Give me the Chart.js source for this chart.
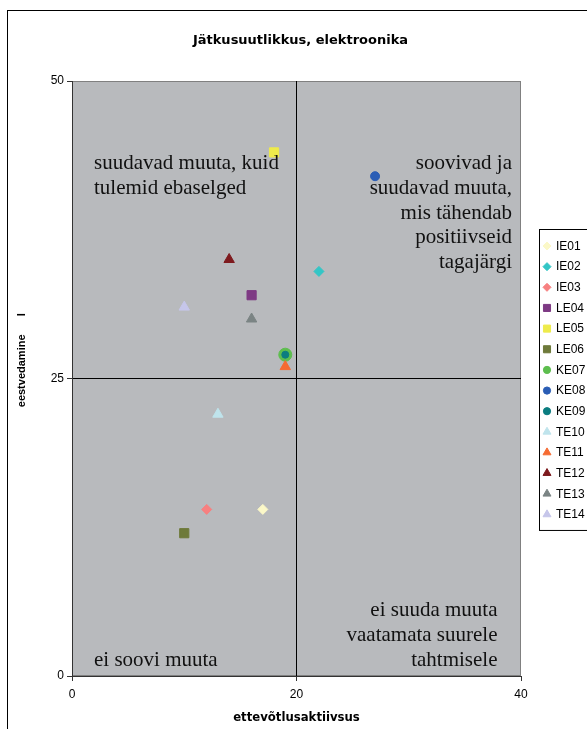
<!DOCTYPE html>
<html><head><meta charset="utf-8">
<script src="https://cdn.jsdelivr.net/npm/chart.js@4/dist/chart.umd.min.js"></script>
<style>html,body{margin:0;padding:0;background:#fff;overflow:hidden}canvas{display:block}</style>
</head><body>
<canvas id="c" width="587" height="729"></canvas>
<script>
// ---- data ----
const seriesNames = ['IE01','IE02','IE03','LE04','LE05','LE06','KE07','KE08','KE09','TE10','TE11','TE12','TE13','TE14'];
const xValues = [17, 22, 12, 16, 18, 10, 19, 27, 19, 13, 19, 14, 16, 10];
const yValues = [14, 34, 14, 32, 44, 12, 27, 42, 27, 22, 26, 35, 30, 31];
const seriesColors = ['#FBF8C8','#33C6C6','#F78080','#7E3A84','#EEEB4B','#6E7A3A','#5DBE4E','#2A5DB5','#0B7D80','#BFE4EC','#F66B32','#7E1A1E','#7B8484','#C6C6EA'];
const markerStyles = ['rectRot','rectRot','rectRot','rect','rect','rect','circle','circle','circle','triangle','triangle','triangle','triangle','triangle'];
const markerSizes = [5, 5, 5, 6.5, 6.5, 6.5, 6.5, 4.5, 3.5, 6, 6, 6, 6, 6];
const legendSizes = [4, 4, 4, 5, 5, 5, 3.6, 3.6, 3.6, 4.6, 4.6, 4.6, 4.6, 4.6];
const xTicks = [0, 20, 40];
const yTicks = [0, 25, 50];
const xDivider = 20;
const yDivider = 25;
const chartTitle = 'Jätkusuutlikkus, elektroonika';
const xTitle = 'ettevõtlusaktiivsus';
const yTitle = '            eestvedamine      I';
const quadrantTL = ['suudavad muuta, kuid', 'tulemid ebaselged'];
const quadrantTR = ['soovivad ja', 'suudavad muuta,', 'mis tähendab', 'positiivseid', 'tagajärgi'];
const quadrantBL = ['ei soovi muuta'];
const quadrantBR = ['ei suuda muuta', 'vaatamata suurele', 'tahtmisele'];

const SANS = "'Liberation Sans', Arial, sans-serif";
const BOLD = "'DejaVu Sans', 'Liberation Sans', sans-serif";
const SERIF = "'Liberation Serif', 'Times New Roman', serif";

const datasets = seriesNames.map((name, i) => ({
  label: name,
  data: [{x: xValues[i], y: yValues[i]}],
  pointStyle: markerStyles[i],
  pointRadius: markerSizes[i],
  pointHoverRadius: markerSizes[i],
  backgroundColor: seriesColors[i],
  borderColor: seriesColors[i],
  borderWidth: 1,
  order: name === 'KE07' ? 1 : 0
}));

const decorPlugin = {
  id: 'decor',
  beforeDraw(chart) {
    const {ctx, chartArea: a} = chart;
    ctx.save();
    ctx.fillStyle = '#fff';
    ctx.fillRect(0, 0, chart.width, chart.height);
    ctx.fillStyle = '#B8BABD';
    ctx.fillRect(a.left, a.top, a.right - a.left, a.bottom - a.top);
    ctx.strokeStyle = '#808080';
    ctx.lineWidth = 1;
    ctx.strokeRect(a.left + 0.5, a.top + 0.5, a.right - a.left - 1, a.bottom - a.top - 1);
    ctx.strokeStyle = '#000';
    ctx.strokeRect(7.5, 10.5, 700, 800);
    ctx.restore();
  },
  afterDatasetsDraw(chart) {
    const {ctx, chartArea: a} = chart;
    ctx.save();
    ctx.font = '21px ' + SERIF;
    ctx.fillStyle = '#111';
    ctx.textBaseline = 'alphabetic';
    const lh = 24.8;
    ctx.textAlign = 'left';
    quadrantTL.forEach((t, i) => ctx.fillText(t, a.left + 22, a.top + 88 + i * lh));
    quadrantBL.forEach((t, i) => ctx.fillText(t, a.left + 22, a.bottom - 10 - (quadrantBL.length - 1 - i) * lh));
    ctx.textAlign = 'right';
    quadrantTR.forEach((t, i) => ctx.fillText(t, a.right - 9, a.top + 88 + i * lh));
    quadrantBR.forEach((t, i) => ctx.fillText(t, a.right - 23.5, a.bottom - 10 - (quadrantBR.length - 1 - i) * lh));
    ctx.restore();
  },
  afterDraw(chart) {
    const {ctx} = chart;
    ctx.save();
    const top = 229.5, step = 20.65, first = 246;
    const h = first - top + (seriesNames.length - 1) * step + 16;
    ctx.strokeStyle = '#000';
    ctx.lineWidth = 1;
    ctx.strokeRect(539.5, top, 80, h);
    ctx.font = '12px ' + SANS;
    ctx.textBaseline = 'middle';
    ctx.textAlign = 'left';
    chart.data.datasets.forEach((ds, i) => {
      const y = first + i * step;
      ctx.fillStyle = ds.backgroundColor;
      ctx.strokeStyle = ds.borderColor;
      Chart.helpers.drawPoint(ctx, {pointStyle: ds.pointStyle, radius: legendSizes[i], rotation: 0, borderWidth: 1}, 547, y);
      ctx.fillStyle = '#000';
      ctx.fillText(ds.label, 556, y + 0.5);
    });
    ctx.restore();
  }
};

new Chart(document.getElementById('c'), {
  type: 'scatter',
  data: {datasets},
  options: {
    responsive: false,
    animation: false,
    devicePixelRatio: 1,
    layout: {padding: {left: 14, right: 0, top: 0, bottom: 0}},
    plugins: {
      legend: {display: false},
      tooltip: {enabled: false},
      title: {
        display: true, text: chartTitle, color: '#000',
        font: {family: BOLD, size: 13, weight: 'bold'},
        padding: {top: 33, bottom: 32.4}
      }
    },
    scales: {
      x: {
        type: 'linear', min: 0, max: 40,
        afterBuildTicks: s => { s.ticks = xTicks.map(v => ({value: v})); },
        afterFit: s => { s.height = 53; },
        ticks: {color: '#000', font: {family: SANS, size: 12}, padding: 6},
        grid: {
          drawOnChartArea: true, drawTicks: true, tickLength: 5, tickColor: '#333',
          color: c => (c.tick && c.tick.value === xDivider) ? '#000' : 'rgba(0,0,0,0)'
        },
        border: {color: '#333', width: 1},
        title: {display: true, text: xTitle, color: '#000', font: {family: BOLD, size: 11.7, weight: 'bold'}, padding: {top: 4, bottom: 4}}
      },
      y: {
        type: 'linear', min: 0, max: 50,
        afterBuildTicks: s => { s.ticks = yTicks.map(v => ({value: v})); },
        afterFit: s => { s.width = 58; },
        ticks: {color: '#000', font: {family: SANS, size: 12}, padding: 3},
        grid: {
          drawOnChartArea: true, drawTicks: true, tickLength: 5, tickColor: '#333',
          color: c => (c.tick && c.tick.value === yDivider) ? '#000' : 'rgba(0,0,0,0)'
        },
        border: {color: '#333', width: 1},
        title: {display: true, text: yTitle, color: '#000', font: {family: SANS, size: 11, weight: 'bold'}, padding: {top: 1.5, bottom: 4}}
      },
      yRight: {
        type: 'linear', position: 'right', min: 0, max: 50,
        afterFit: s => { s.width = 66; },
        ticks: {display: false},
        grid: {display: false, drawOnChartArea: false},
        border: {display: false}
      }
    }
  },
  plugins: [decorPlugin]
});
</script>
</body></html>
